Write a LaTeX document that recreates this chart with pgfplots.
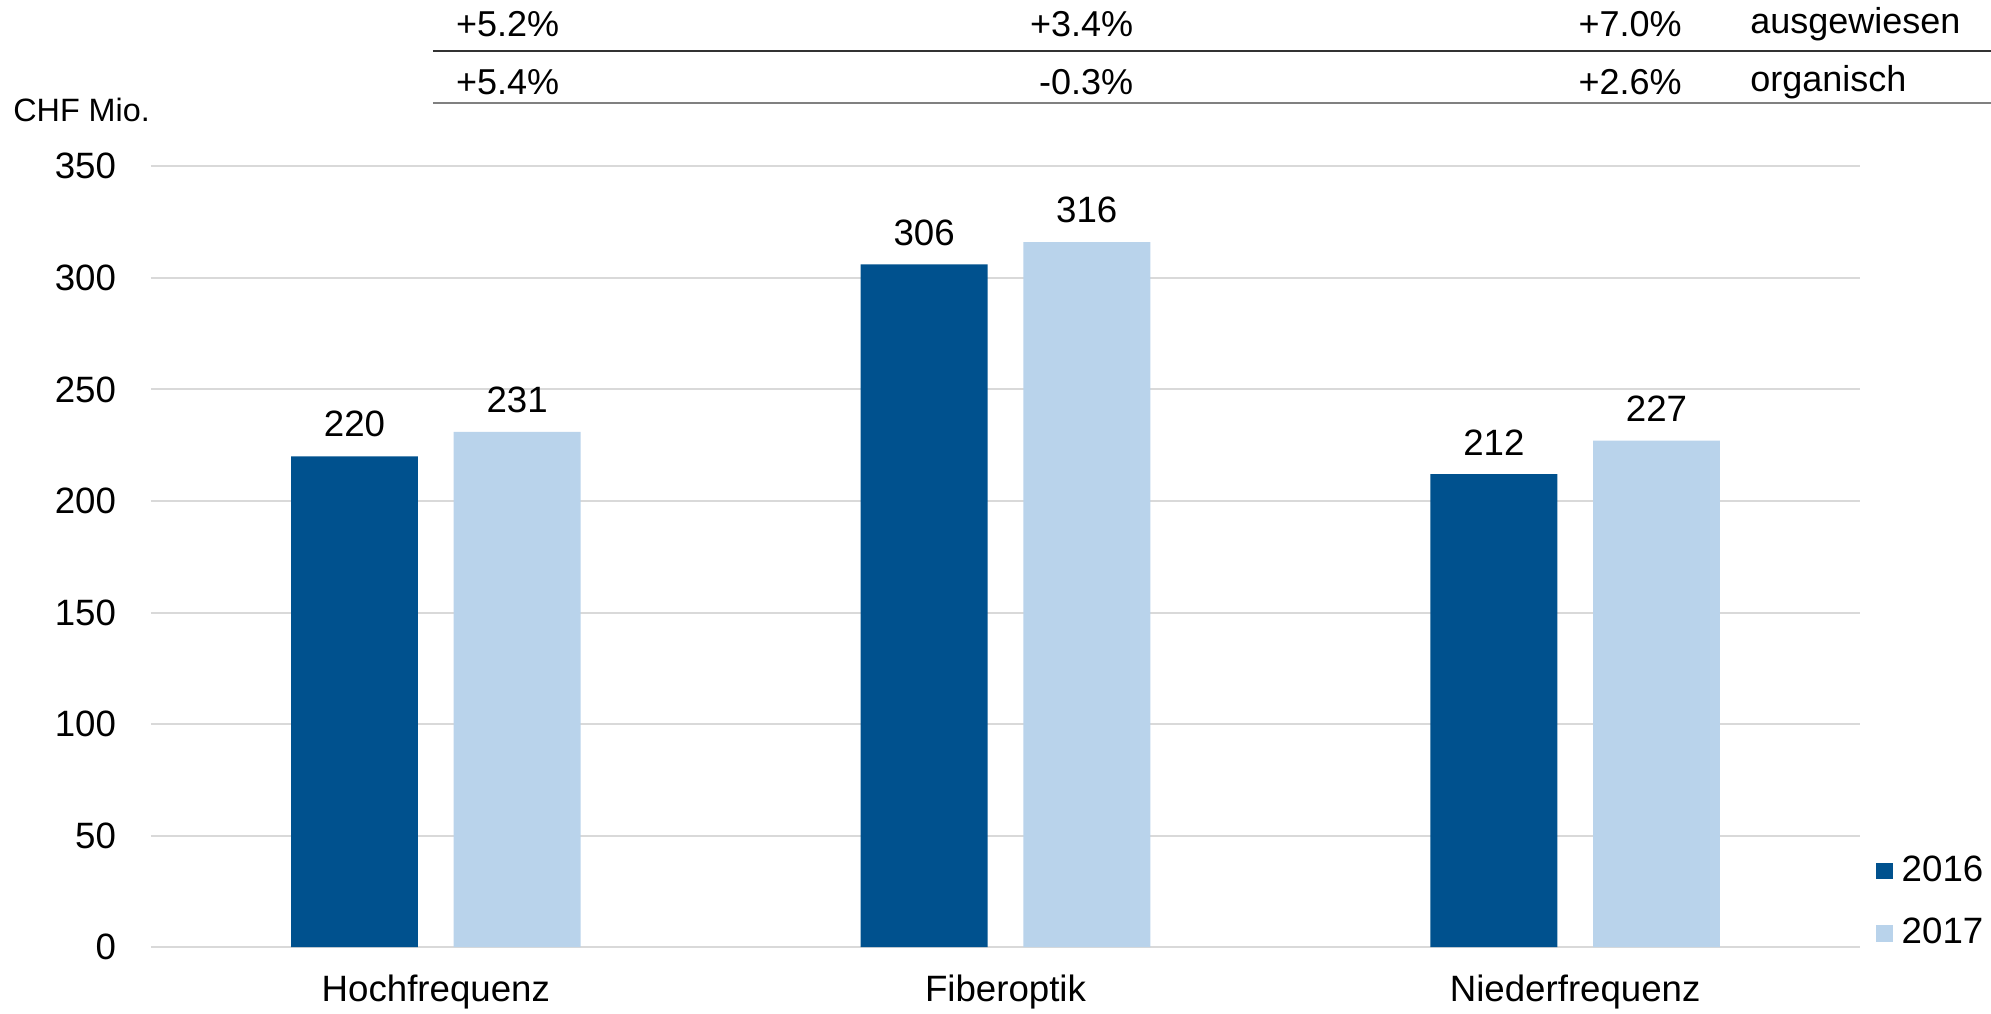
\documentclass[border=0pt]{standalone}
\usepackage{fontspec}
\setmainfont{Liberation Sans}
\usepackage{pgfplots}
\pgfplotsset{compat=1.18}
\definecolor{darkblue}{HTML}{00518E}
\definecolor{lightblue}{HTML}{B9D3EB}
\definecolor{gridgray}{HTML}{D9D9D9}
\newcommand{\fa}{\fontsize{11}{13}\selectfont}
\newcommand{\fb}{\fontsize{10.8}{13}\selectfont}
\begin{document}
\begin{tikzpicture}
\useasboundingbox (-45.3pt,-19.8pt) rectangle (552.1pt,284.2pt);
\begin{axis}[
  at={(0pt,0pt)}, anchor=south west,
  scale only axis, width=512.8pt, height=234.3pt,
  xmin=-0.5, xmax=2.5, ymin=0, ymax=350,
  ybar=10.7pt, bar width=38.1pt,
  xtick={0,1,2}, xticklabels={Hochfrequenz,Fiberoptik,Niederfrequenz},
  ytick={0,50,...,350},
  major tick length=0pt,
  axis line style={draw=none},
  ymajorgrids, grid style={gridgray, line width=0.6pt},
  tick label style={font=\fa},
  yticklabel style={anchor=east, inner sep=0pt, xshift=-10.3pt},
  xticklabel style={anchor=north, inner sep=0pt, yshift=-8pt},
  /pgf/number format/assume math mode=true,
  nodes near coords,
  nodes near coords style={font=\fa, anchor=south, inner sep=0pt, yshift=5.5pt, text=black},
  legend style={draw=none, fill=none, at={(1.009,-0.003)}, anchor=south west,
    inner sep=0pt, row sep=9.6pt, column sep=2.7pt, font=\fa,
    nodes={inner sep=0pt}},
  legend cell align=left,
  legend image code/.code={\fill[#1] (0pt,-2.5pt) rectangle (5pt,2.5pt);},
]
\addplot[fill=darkblue, draw=none] coordinates {(0,220) (1,306) (2,212)};
\addplot[fill=lightblue, draw=none] coordinates {(0,231) (1,316) (2,227)};
\legend{2016,2017}
\end{axis}
% table above the chart
\node[anchor=east, font=\fb, inner sep=0pt] at (122.7pt,277pt) {+5.2\%};
\node[anchor=east, font=\fb, inner sep=0pt] at (294.9pt,277pt) {+3.4\%};
\node[anchor=east, font=\fb, inner sep=0pt] at (459.5pt,277pt) {+7.0\%};
\node[anchor=west, font=\fb, inner sep=0pt] at (479.7pt,277pt) {ausgewiesen};
\node[anchor=east, font=\fb, inner sep=0pt] at (122.7pt,259.5pt) {+5.4\%};
\node[anchor=east, font=\fb, inner sep=0pt] at (294.9pt,259.5pt) {-0.3\%};
\node[anchor=east, font=\fb, inner sep=0pt] at (459.5pt,259.5pt) {+2.6\%};
\node[anchor=west, font=\fb, inner sep=0pt] at (479.7pt,259.5pt) {organisch};
\draw[black!80, line width=0.6pt] (84.6pt,269pt) -- (552.1pt,269pt);
\draw[black!50, line width=0.6pt] (84.6pt,253.4pt) -- (552.1pt,253.4pt);
\node[anchor=west, font=\fontsize{9.7}{12}\selectfont, inner sep=0pt] at (-41.5pt,251.1pt) {CHF Mio.};
\end{tikzpicture}
\end{document}
